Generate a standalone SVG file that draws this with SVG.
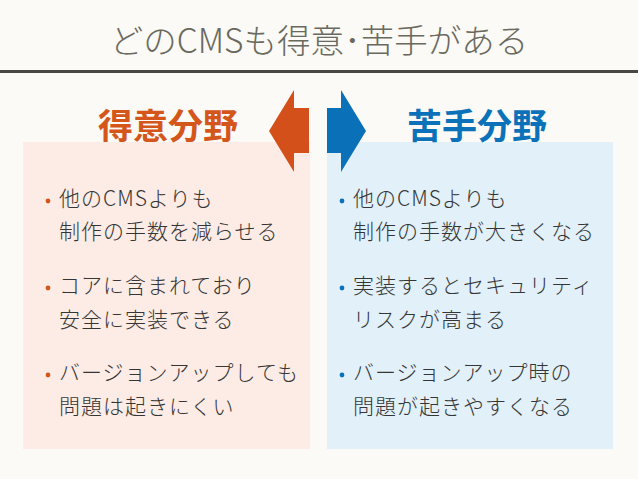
<svg xmlns="http://www.w3.org/2000/svg" width="638" height="479" viewBox="0 0 638 479">
<style>
text{font-family:"Noto Sans CJK JP","Noto Sans",sans-serif}
.title{font-size:33.5px;fill:#6a695e;text-anchor:middle;font-weight:300}
.head{font-size:35px;font-weight:bold;text-anchor:middle}
.item{font-size:21px;fill:#353535;letter-spacing:1px;font-weight:300}
</style>
<rect width="638" height="479" fill="#fbfaf6"/>
<g id="title">
<text class="title" x="319" y="53">どのCMSも得意･苦手がある</text>
<rect x="0" y="70" width="638" height="3" fill="#484843"/>
</g>
<g id="left">
<rect x="23" y="142" width="287" height="307" fill="#fcece5"/>
<text class="head" x="168" y="139" fill="#d4561b">得意分野</text>
<g fill="#d4561b"><circle cx="48" cy="201" r="2.4"/><circle cx="48" cy="288" r="2.4"/><circle cx="48" cy="375" r="2.4"/></g>
<text class="item" x="59" y="206">他のCMSよりも</text>
<text class="item" x="59" y="239">制作の手数を減らせる</text>
<text class="item" x="59" y="293">コアに含まれており</text>
<text class="item" x="59" y="327">安全に実装できる</text>
<text class="item" x="59" y="380">バージョンアップしても</text>
<text class="item" x="59" y="414">問題は起きにくい</text>
</g>
<g id="right">
<rect x="327" y="142" width="286" height="307" fill="#e1f0f9"/>
<text class="head" x="477" y="139" fill="#0b72b9">苦手分野</text>
<g fill="#0b72b9"><circle cx="342" cy="201" r="2.4"/><circle cx="342" cy="288" r="2.4"/><circle cx="342" cy="375" r="2.4"/></g>
<text class="item" x="353" y="206">他のCMSよりも</text>
<text class="item" x="353" y="239">制作の手数が大きくなる</text>
<text class="item" x="353" y="293">実装するとセキュリティ</text>
<text class="item" x="353" y="327">リスクが高まる</text>
<text class="item" x="353" y="380">バージョンアップ時の</text>
<text class="item" x="353" y="414">問題が起きやすくなる</text>
</g>
<g id="connectors">
<polygon points="269,131 294,90 294,108 309,108 309,153 294,153 294,172" fill="#d4501a"/>
<polygon points="366,131 341,90 341,108 327,108 327,153 341,153 341,172" fill="#0a70b8"/>
</g>
</svg>
